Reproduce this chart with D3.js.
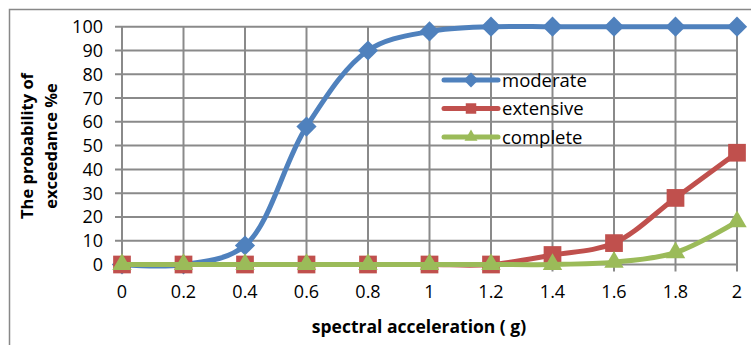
<!DOCTYPE html>
<html>
<head>
<meta charset="utf-8">
<script src="https://cdn.jsdelivr.net/npm/d3@7"></script>
<style>
  body { margin: 0; background: #fff; }
  svg text { font-family: "Open Sans", sans-serif; }
</style>
</head>
<body>
<div id="svgContainer"></div>
<script>
const accel = [0, 0.2, 0.4, 0.6, 0.8, 1, 1.2, 1.4, 1.6, 1.8, 2];
const moderate = [0, 0, 8, 58, 90, 98, 100, 100, 100, 100, 100];
const extensive = [0, 0, 0, 0, 0, 0, 0, 4, 9, 28, 47];
const complete = [0, 0, 0, 0, 0, 0, 0, 0, 1, 5, 18];
const seriesNames = ["moderate", "extensive", "complete"];
const xTicks = [0, 0.2, 0.4, 0.6, 0.8, 1, 1.2, 1.4, 1.6, 1.8, 2];
const yTicks = [0, 10, 20, 30, 40, 50, 60, 70, 80, 90, 100];

const width = 751;
const height = 345;

const colors = ["#4F81BD", "#C0504D", "#9BBB59"];
const symbols = [d3.symbolDiamond2, d3.symbolSquare2, d3.symbolTriangle2];
const markerSizes = [260, 400, 270];

const svg = d3.select("#svgContainer")
  .append("svg")
  .attr("width", width)
  .attr("height", height);

// chart border (runs off the picture on right and bottom)
svg.append("rect")
  .attr("x", 9.5).attr("y", 9.5)
  .attr("width", 760).attr("height", 360)
  .attr("fill", "none")
  .attr("stroke", "#888")
  .attr("stroke-width", 1.5);

const x = d3.scaleLinear().domain([0, 2]).range([122, 737]);
const y = d3.scaleLinear().domain([0, 100]).range([264.5, 26.7]);

const grid = svg.append("g").attr("stroke", "#8a8a8a").attr("stroke-width", 2);

// horizontal gridlines with small ticks to the left
grid.selectAll(".hg")
  .data(yTicks)
  .enter()
  .append("line")
  .attr("x1", x(0) - 7)
  .attr("x2", x(2))
  .attr("y1", d => y(d))
  .attr("y2", d => y(d));

// vertical gridlines with small ticks below
grid.selectAll(".vg")
  .data(xTicks)
  .enter()
  .append("line")
  .attr("x1", d => x(d))
  .attr("x2", d => x(d))
  .attr("y1", y(100))
  .attr("y2", y(0) + 7);

// tick labels
svg.append("g")
  .selectAll("text")
  .data(yTicks)
  .enter()
  .append("text")
  .attr("x", 103)
  .attr("y", d => y(d))
  .attr("dy", "0.36em")
  .attr("text-anchor", "end")
  .attr("font-size", 18)
  .text(d => d);

svg.append("g")
  .selectAll("text")
  .data(xTicks)
  .enter()
  .append("text")
  .attr("x", d => x(d))
  .attr("y", 298)
  .attr("text-anchor", "middle")
  .attr("font-size", 18)
  .text(d => d);

// axis titles
svg.append("text")
  .attr("x", 419)
  .attr("y", 333)
  .attr("text-anchor", "middle")
  .attr("font-size", 17.5)
  .attr("font-weight", "bold")
  .text("spectral acceleration ( g)");

const yTitle = svg.append("text")
  .attr("transform", "translate(33,146) rotate(-90)")
  .attr("text-anchor", "middle")
  .attr("font-size", 16.5)
  .attr("font-weight", "bold");
yTitle.append("tspan").attr("x", 0).attr("y", 0).text("The probability of");
yTitle.append("tspan").attr("x", 0).attr("y", 24).text("exceedance %e");

// series
const allSeries = [moderate, extensive, complete];
const line = d3.line()
  .x((d, i) => x(accel[i]))
  .y(d => y(d))
  .curve(d3.curveCatmullRom.alpha(0.5));

allSeries.forEach((values, si) => {
  const g = svg.append("g");
  g.append("path")
    .datum(values)
    .attr("d", line)
    .attr("fill", "none")
    .attr("stroke", colors[si])
    .attr("stroke-width", 5)
    .attr("stroke-linejoin", "round");
  g.selectAll("path.m")
    .data(values)
    .enter()
    .append("path")
    .attr("class", "m")
    .attr("transform", (d, i) => `translate(${x(accel[i])},${y(d)})`)
    .attr("d", d3.symbol().type(symbols[si]).size(markerSizes[si]))
    .attr("fill", colors[si]);
});

// legend
const legend = svg.append("g");
seriesNames.forEach((name, i) => {
  const ly = 80 + i * 28.5;
  legend.append("line")
    .attr("x1", 444).attr("x2", 498)
    .attr("y1", ly).attr("y2", ly)
    .attr("stroke", colors[i])
    .attr("stroke-width", 5)
    .attr("stroke-linecap", "round");
  legend.append("path")
    .attr("transform", `translate(471,${ly})`)
    .attr("d", d3.symbol().type(symbols[i]).size(i === 2 ? 120 : 140))
    .attr("fill", colors[i]);
  legend.append("text")
    .attr("x", 502)
    .attr("y", ly)
    .attr("dy", "0.36em")
    .attr("font-size", 18.5)
    .text(name);
});
</script>
</body>
</html>
